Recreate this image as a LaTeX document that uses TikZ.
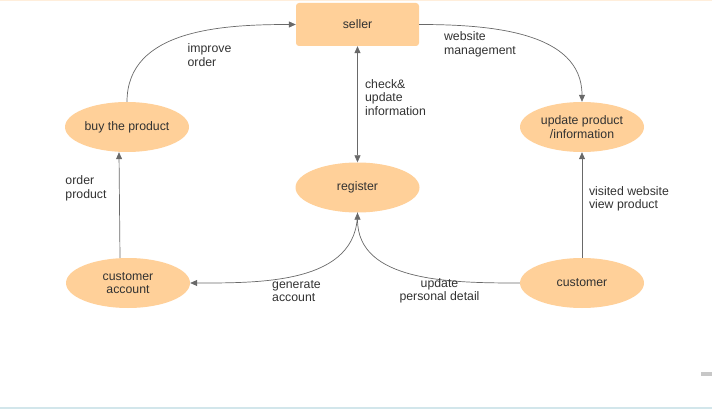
\documentclass[tikz,border=0pt]{standalone}
\usepackage{fontspec}
\setmainfont{Liberation Sans}
\usetikzlibrary{arrows.meta,shapes.geometric}
\definecolor{peach}{RGB}{255,208,153}
\definecolor{linegray}{RGB}{105,105,105}
\definecolor{textgray}{RGB}{50,50,50}
\definecolor{barblue}{RGB}{210,230,235}
\tikzset{
	proc/.style={ellipse, fill=peach, minimum width=124pt, minimum height=50pt, inner sep=0pt, align=center, text=textgray, font=\fontsize{12.3}{13.5}\selectfont},
	sellerbox/.style={rectangle, rounded corners=3pt, fill=peach, minimum width=123pt, minimum height=43pt, inner sep=0pt, text=textgray, font=\fontsize{12.3}{13.5}\selectfont},
	flow/.style={draw=linegray, line width=0.7pt, -{Triangle[width=6pt,length=7pt]}},
	lbl/.style={inner sep=0pt, align=left, text=textgray, font=\fontsize{12.3}{13.5}\selectfont}
}
\begin{document}
\begin{tikzpicture}[x=1pt,y=-1pt]
			%%%%% START %%%%%
			\useasboundingbox (0,0) rectangle (712,409);
			
			\fill[peach!35] (0,0) rectangle (712,1.5);
			\fill[barblue] (0,407) rectangle (712,409);
			\fill[black!22] (701,372) rectangle (712,376);
			
			\node[sellerbox] (seller) at (357.5,24.5) {seller};
			\node[proc] (buy) at (127,127) {buy the product};
			\node[proc] (update) at (582,127) {update product\\/information};
			\node[proc] (register) at (357.5,187.5) {register};
			\node[proc] (account) at (128,283) {customer\\ account};
			\node[proc] (customer) at (582,283) {customer};
			
			\draw[flow] (buy.north) to[out=90,in=180] (seller.west);
			\draw[flow] (seller.east) to[out=0,in=90] (update.north);
			\draw[flow,{Triangle[width=6pt,length=7pt]}-{Triangle[width=6pt,length=7pt]}] (seller.south) -- (register.north);
			\draw[flow] ([xshift=-8pt]account.north) -- ([xshift=-8pt]buy.south);
			\draw[flow] (register.south) to[out=-90,in=0] (account.east);
			\draw[flow] (customer.west) to[out=180,in=-90] (register.south);
			\draw[flow] (customer.north) -- (update.south);
			
			\node[lbl] (improve) at (209.5,55) {improve\\order};
			\node[lbl] (website) at (480,44.5) {website\\management};
			\node[lbl] (check) at (395.5,97.5) {check\&\\update\\information};
			\node[lbl] (order) at (86,188.5) {order\\product};
			\node[lbl] (visited) at (629,199) {visited website\\view product};
			\node[lbl] (generate) at (296.5,291) {generate\\account};
			\node[lbl, align=center] (personal) at (439.5,291) {update\\personal detail};
			
			%%%%% END %%%%%
\end{tikzpicture}
\end{document}
